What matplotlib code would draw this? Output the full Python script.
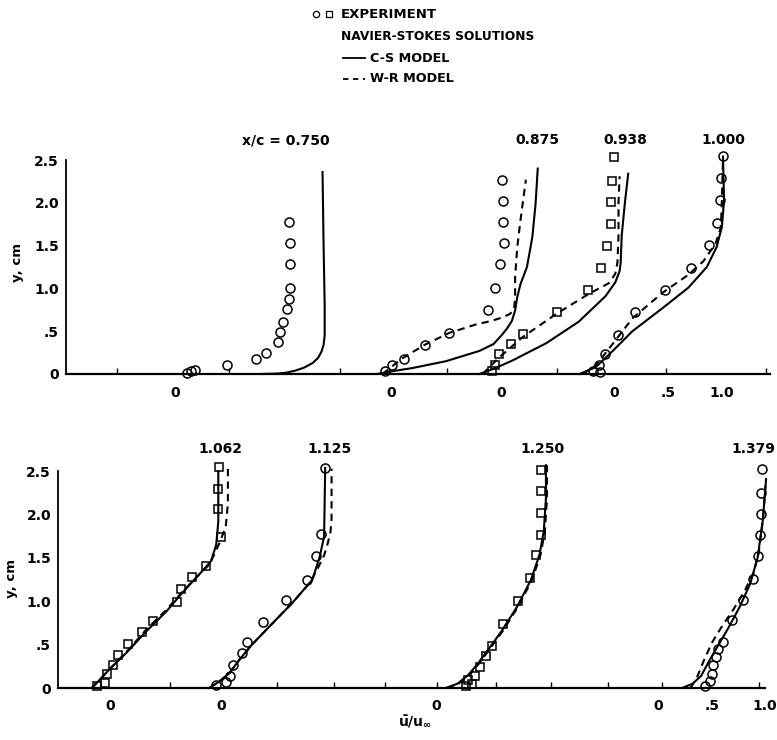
import matplotlib
matplotlib.use('Agg')
import matplotlib.pyplot as plt
from matplotlib.lines import Line2D

plt.rcParams['font.family'] = ['DejaVu Sans']
plt.rcParams['font.weight'] = 'bold'
plt.rcParams['mathtext.fontset'] = 'dejavusans'

W, H = 777, 740

# station labels and profile offsets along each shared axis (in u/u_inf units)
TOP_STATIONS = ['x/c = 0.750', '0.875', '0.938', '1.000']
TOP_OFFSETS = [0.0, 2.006, 3.025, 4.074]
BOT_STATIONS = ['1.062', '1.125', '1.250', '1.379']
BOT_OFFSETS = [0.0, 1.044, 3.068, 5.156]

Y_TICKS = [0, 0.5, 1.0, 1.5, 2.0, 2.5]
Y_TICK_LABELS = ['0', '.5', '1.0', '1.5', '2.0', '2.5']
TOP_MINOR_TICKS = [-0.54, 0.0, 0.5, 1.53, 2.52, 3.54, 4.56, 5.48]
BOT_MINOR_TICKS = [0.57, 1.57, 2.11, 2.59, 3.07, 3.63, 4.15, 4.68, 5.19, 6.10]

# x/c = 0.750
exp_075_u = [0.11, 0.15, 0.19, 0.48, 0.75, 0.85, 0.96, 0.98, 1.00, 1.04, 1.06, 1.07, 1.07, 1.07, 1.06]
exp_075_y = [0.01, 0.03, 0.05, 0.11, 0.18, 0.25, 0.37, 0.49, 0.61, 0.76, 0.88, 1.01, 1.28, 1.53, 1.77]
cs_075_u = [0.80, 0.95, 1.03, 1.12, 1.20, 1.28, 1.33, 1.36, 1.38, 1.39, 1.39, 1.38, 1.37]
cs_075_y = [0.0, 0.005, 0.015, 0.04, 0.075, 0.13, 0.19, 0.26, 0.34, 0.45, 0.80, 1.50, 2.36]

# x/c = 0.875
exp_0875_u = [-0.06, 0.01, 0.12, 0.31, 0.54, 0.90, 0.96, 1.01, 1.05, 1.04, 1.04, 1.03]
exp_0875_y = [0.03, 0.11, 0.17, 0.34, 0.48, 0.75, 1.00, 1.28, 1.53, 1.77, 2.02, 2.27]
cs_0875_u = [-0.13, 0.0, 0.20, 0.51, 0.82, 0.95, 1.03, 1.08, 1.12, 1.15, 1.17, 1.20, 1.26, 1.31, 1.34, 1.36]
cs_0875_y = [0.0, 0.03, 0.07, 0.15, 0.27, 0.35, 0.46, 0.54, 0.62, 0.74, 0.90, 1.05, 1.25, 1.60, 1.99, 2.40]
wr_0875_u = [-0.08, -0.05, 0.10, 0.31, 0.54, 0.79, 0.93, 1.03, 1.10, 1.14, 1.15, 1.15, 1.17, 1.20, 1.25]
wr_0875_y = [0.0, 0.03, 0.18, 0.34, 0.48, 0.58, 0.62, 0.66, 0.70, 0.75, 0.90, 1.13, 1.48, 1.80, 2.27]

# x/c = 0.938
exp_0938_u = [-0.08, -0.06, -0.02, 0.09, 0.20, 0.52, 0.81, 0.93, 0.98, 1.02, 1.02, 1.03, 1.05]
exp_0938_y = [0.04, 0.11, 0.23, 0.35, 0.47, 0.73, 0.98, 1.24, 1.50, 1.75, 2.01, 2.26, 2.54]
cs_0938_u = [-0.20, -0.05, 0.11, 0.42, 0.72, 0.97, 1.06, 1.10, 1.11, 1.12, 1.15, 1.18]
cs_0938_y = [0.0, 0.07, 0.16, 0.36, 0.61, 0.91, 1.07, 1.20, 1.30, 1.62, 2.01, 2.34]
wr_0938_u = [-0.17, -0.02, 0.20, 0.51, 0.82, 1.00, 1.06, 1.08, 1.09, 1.09, 1.10]
wr_0938_y = [0.0, 0.19, 0.43, 0.70, 0.94, 1.06, 1.17, 1.30, 1.61, 2.00, 2.31]

# x/c = 1.000
exp_1000_u = [-0.20, -0.13, -0.14, -0.08, 0.04, 0.19, 0.47, 0.71, 0.88, 0.95, 0.98, 0.99, 1.01]
exp_1000_y = [0.04, 0.02, 0.11, 0.23, 0.46, 0.73, 0.98, 1.24, 1.51, 1.76, 2.03, 2.29, 2.55]
cs_1000_u = [-0.32, -0.17, -0.02, 0.17, 0.45, 0.69, 0.86, 0.95, 1.00, 1.02, 1.01]
cs_1000_y = [0.0, 0.08, 0.26, 0.50, 0.77, 1.01, 1.25, 1.48, 1.72, 2.03, 2.54]
wr_1000_u = [-0.29, -0.17, -0.02, 0.17, 0.45, 0.69, 0.83, 0.94, 0.99, 1.00, 1.01]
wr_1000_y = [0.0, 0.10, 0.34, 0.65, 0.95, 1.16, 1.32, 1.52, 1.71, 2.03, 2.53]

# x/c = 1.062
exp_1062_u = [-0.12, -0.04, -0.03, 0.03, 0.08, 0.17, 0.30, 0.41, 0.63, 0.67, 0.77, 0.90, 1.05, 1.02, 1.02, 1.03]
exp_1062_y = [0.02, 0.06, 0.16, 0.26, 0.38, 0.51, 0.65, 0.77, 0.99, 1.14, 1.28, 1.41, 1.74, 2.06, 2.30, 2.55]
cs_1062_u = [-0.17, -0.09, 0.0, 0.16, 0.34, 0.53, 0.69, 0.84, 0.95, 1.00, 1.02, 1.02]
cs_1062_y = [0.0, 0.10, 0.22, 0.41, 0.65, 0.88, 1.11, 1.31, 1.46, 1.65, 1.92, 2.50]
wr_1062_u = [-0.17, -0.09, 0.0, 0.16, 0.34, 0.53, 0.69, 0.84, 0.94, 1.03, 1.09, 1.11, 1.11]
wr_1062_y = [0.0, 0.10, 0.22, 0.42, 0.67, 0.90, 1.12, 1.31, 1.43, 1.67, 1.86, 2.13, 2.55]

# x/c = 1.125
exp_1125_u = [-0.05, 0.05, 0.09, 0.11, 0.20, 0.25, 0.40, 0.61, 0.81, 0.89, 0.94, 0.98]
exp_1125_y = [0.04, 0.07, 0.14, 0.26, 0.40, 0.53, 0.76, 1.01, 1.25, 1.52, 1.78, 2.54]
cs_1125_u = [-0.11, -0.02, 0.08, 0.17, 0.30, 0.48, 0.67, 0.86, 0.93, 0.97, 0.98]
cs_1125_y = [0.0, 0.07, 0.17, 0.32, 0.51, 0.74, 0.98, 1.25, 1.52, 1.75, 2.54]
wr_1125_u = [-0.11, -0.02, 0.08, 0.17, 0.30, 0.48, 0.67, 0.84, 0.91, 0.97, 1.00, 1.03, 1.04, 1.04]
wr_1125_y = [0.0, 0.07, 0.17, 0.32, 0.51, 0.74, 0.98, 1.22, 1.38, 1.53, 1.65, 1.80, 1.95, 2.53]

# x/c = 1.250
exp_1250_u = [0.28, 0.34, 0.30, 0.36, 0.41, 0.47, 0.52, 0.63, 0.77, 0.88, 0.94, 0.98, 0.98, 0.98, 0.98]
exp_1250_y = [0.02, 0.05, 0.09, 0.14, 0.24, 0.37, 0.49, 0.74, 1.00, 1.27, 1.53, 1.77, 2.02, 2.27, 2.52]
cs_1250_u = [0.09, 0.20, 0.30, 0.39, 0.48, 0.61, 0.76, 0.89, 0.97, 1.01, 1.03, 1.03]
cs_1250_y = [0.0, 0.05, 0.15, 0.28, 0.43, 0.65, 0.94, 1.25, 1.54, 1.81, 2.19, 2.57]
wr_1250_u = [0.10, 0.21, 0.31, 0.40, 0.49, 0.62, 0.77, 0.90, 0.98, 1.02, 1.04, 1.04]
wr_1250_y = [0.0, 0.05, 0.15, 0.28, 0.43, 0.65, 0.94, 1.25, 1.54, 1.81, 2.19, 2.57]

# x/c = 1.379
exp_1379_u = [0.44, 0.48, 0.50, 0.51, 0.54, 0.56, 0.61, 0.69, 0.79, 0.89, 0.93, 0.95, 0.96, 0.96, 0.97]
exp_1379_y = [0.02, 0.08, 0.16, 0.26, 0.36, 0.45, 0.53, 0.78, 1.01, 1.26, 1.52, 1.76, 2.01, 2.25, 2.53]
cs_1379_u = [0.22, 0.32, 0.40, 0.47, 0.55, 0.65, 0.76, 0.86, 0.93, 0.98, 1.01]
cs_1379_y = [0.0, 0.05, 0.14, 0.30, 0.47, 0.68, 0.93, 1.20, 1.50, 1.94, 2.41]
wr_1379_u = [0.30, 0.36, 0.42, 0.50, 0.60, 0.70, 0.80, 0.89, 0.94, 0.98, 1.01]
wr_1379_y = [0.0, 0.12, 0.30, 0.52, 0.72, 0.90, 1.10, 1.32, 1.55, 1.94, 2.41]

LW = 1.5
DASH = (3.5, 2.5)


def profile(ax, off, exp_u, exp_y, marker, cs=None, wr=None):
    if cs is not None:
        ax.plot([off + u for u in cs[0]], cs[1], color='black', lw=LW, clip_on=False)
    if wr is not None:
        ax.plot([off + u for u in wr[0]], wr[1], color='black', lw=LW,
                dashes=DASH, clip_on=False)
    ms = 6.5 if marker == 'o' else 6
    ax.plot([off + u for u in exp_u], exp_y, linestyle='none', marker=marker,
            ms=ms, mfc='none', mec='black', mew=1.1, clip_on=False)


def style(ax, xlim, minor_ticks, label_pos, label_txt, pad):
    ax.set_xlim(*xlim)
    ax.set_ylim(0, 2.5)
    ax.patch.set_visible(False)
    for s in ('top', 'right'):
        ax.spines[s].set_visible(False)
    ax.spines['left'].set_linewidth(1.3)
    ax.spines['bottom'].set_linewidth(1.6)
    ax.set_yticks(Y_TICKS, Y_TICK_LABELS)
    ax.tick_params(axis='y', length=0, pad=5, labelsize=10)
    ax.set_xticks(label_pos, label_txt)
    ax.set_xticks(minor_ticks, minor=True)
    ax.tick_params(axis='x', which='major', length=0, pad=pad, labelsize=10)
    ax.tick_params(axis='x', which='minor', direction='in', length=4, width=1)


fig = plt.figure(figsize=(W / 100, H / 100), dpi=100)


def px_axes(left, right, bottom_py, top_py):
    return fig.add_axes([left / W, 1 - bottom_py / H, (right - left) / W,
                         (bottom_py - top_py) / H])


ax1 = px_axes(66, 770, 374, 160)
ax2 = px_axes(58, 765, 688, 471.3)

# top panel
profile(ax1, TOP_OFFSETS[0], exp_075_u, exp_075_y, 'o', cs=(cs_075_u, cs_075_y))
profile(ax1, TOP_OFFSETS[1], exp_0875_u, exp_0875_y, 'o',
        cs=(cs_0875_u, cs_0875_y), wr=(wr_0875_u, wr_0875_y))
profile(ax1, TOP_OFFSETS[2], exp_0938_u, exp_0938_y, 's',
        cs=(cs_0938_u, cs_0938_y), wr=(wr_0938_u, wr_0938_y))
profile(ax1, TOP_OFFSETS[3], exp_1000_u, exp_1000_y, 'o',
        cs=(cs_1000_u, cs_1000_y), wr=(wr_1000_u, wr_1000_y))

# bottom panel
profile(ax2, BOT_OFFSETS[0], exp_1062_u, exp_1062_y, 's',
        cs=(cs_1062_u, cs_1062_y), wr=(wr_1062_u, wr_1062_y))
profile(ax2, BOT_OFFSETS[1], exp_1125_u, exp_1125_y, 'o',
        cs=(cs_1125_u, cs_1125_y), wr=(wr_1125_u, wr_1125_y))
profile(ax2, BOT_OFFSETS[2], exp_1250_u, exp_1250_y, 's',
        cs=(cs_1250_u, cs_1250_y), wr=(wr_1250_u, wr_1250_y))
profile(ax2, BOT_OFFSETS[3], exp_1379_u, exp_1379_y, 'o',
        cs=(cs_1379_u, cs_1379_y), wr=(wr_1379_u, wr_1379_y))

top_lab_pos = TOP_OFFSETS + [TOP_OFFSETS[3] + 0.5, TOP_OFFSETS[3] + 1.0]
bot_lab_pos = BOT_OFFSETS + [BOT_OFFSETS[3] + 0.5, BOT_OFFSETS[3] + 1.0]
zero_labels = ['0', '0', '0', '0', '.5', '1.0']
style(ax1, (-1.009, 5.52), TOP_MINOR_TICKS, top_lab_pos, zero_labels, 9)
style(ax2, (-0.486, 6.12), BOT_MINOR_TICKS, bot_lab_pos, zero_labels, 8)


def ftext(x, y, s, **kw):
    fig.text(x / W, 1 - y / H, s, **kw)


# station labels
for txt, x in zip(TOP_STATIONS, [286, 537, 625, 723]):
    ftext(x, 140, txt, ha='center', va='center', fontsize=10)
for txt, x in zip(BOT_STATIONS[:3], [220, 330, 543]):
    ftext(x, 449, txt, ha='center', va='center', fontsize=10)
ftext(775, 449, BOT_STATIONS[3], ha='right', va='center', fontsize=10)

ftext(18, 263, 'y, cm', rotation=90, ha='center', va='center', fontsize=9.5)
ftext(12, 578, 'y, cm', rotation=90, ha='center', va='center', fontsize=9.5)
ftext(415, 722, r'$\bar{\mathbf{u}}/\mathbf{u}_{\infty}$', ha='center', va='center', fontsize=10)

# legend block
fig.add_artist(Line2D([316 / W], [1 - 14 / H], marker='o', ms=4.5, mfc='none',
                      mec='black', mew=0.9, transform=fig.transFigure))
fig.add_artist(Line2D([329 / W], [1 - 14 / H], marker='s', ms=4.5, mfc='none',
                      mec='black', mew=0.9, transform=fig.transFigure))
ftext(341, 14, 'EXPERIMENT', ha='left', va='center', fontsize=9.5)
ftext(341, 37, 'NAVIER-STOKES SOLUTIONS', ha='left', va='center', fontsize=8.8)
fig.add_artist(Line2D([343 / W, 365 / W], [1 - 58 / H] * 2, color='black', lw=1.3,
                      transform=fig.transFigure))
ftext(370, 58, 'C-S MODEL', ha='left', va='center', fontsize=9.2)
fig.add_artist(Line2D([343 / W, 365 / W], [1 - 79 / H] * 2, color='black', lw=1.3,
                      dashes=(3, 2.5), transform=fig.transFigure))
ftext(370, 79, 'W-R MODEL', ha='left', va='center', fontsize=9.2)

fig.savefig('out.png', dpi=100)
